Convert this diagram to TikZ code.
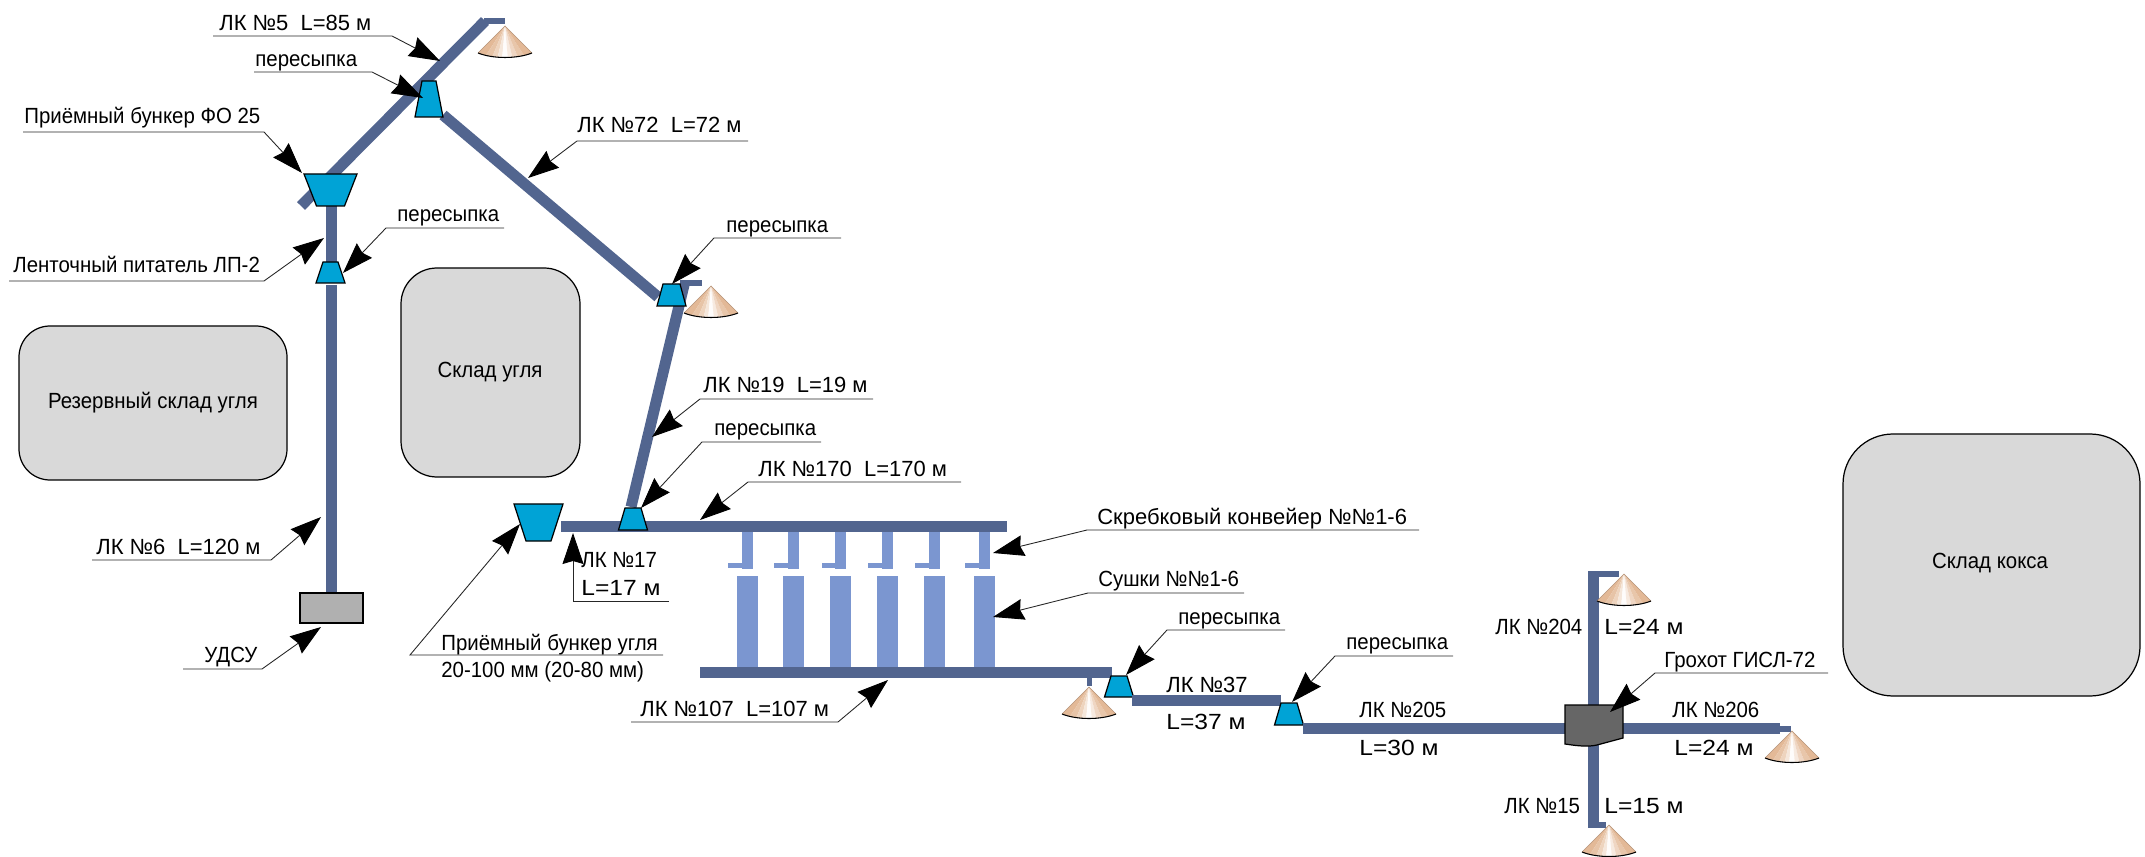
\documentclass[tikz,border=0pt]{standalone}
\usepackage{fontspec}
\usepackage{xcolor}
\setmainfont{Liberation Sans}
\newfontfamily\narrowfont[FakeStretch=0.93]{Liberation Sans}
\newfontfamily\widefont[FakeStretch=1.12]{Liberation Sans}
\usetikzlibrary{arrows.meta}

\definecolor{beltblue}{HTML}{52658F}
\definecolor{dryerblue}{HTML}{7B96D0}
\definecolor{hopperblue}{HTML}{00A3D6}
\definecolor{storegray}{HTML}{D9D9D9}
\definecolor{piletan}{HTML}{E3B997}
\newcommand{\labelsize}{\fontsize{12.5}{15}\selectfont}

\tikzset{
    belt/.style={line width=0.22cm,color=beltblue},
    tail/.style={line width=0.12cm,color=beltblue},
    dryer/.style={fill=dryerblue,draw=none},
    hopper/.style={fill=hopperblue,draw=black,line width=0.7pt},
    store/.style={draw=black,fill=storegray,line width=0.7pt},
    storetext/.style={text=black,font=\narrowfont\labelsize},
    lbl/.style={anchor=base west,inner sep=0pt,text=black,font=\labelsize},
    lbln/.style={lbl,font=\narrowfont\labelsize},
    lblw/.style={lbl,font=\widefont\labelsize},
    leadline/.style={draw=black!85,line width=0.5pt,
        -{Stealth[length=0.62cm,width=0.42cm,inset=0.06cm,color=black]}}
}

% leader: name, start of the underline, knee, tip
\newcommand{\leader}[4]{
    \coordinate (#1s) at (#2);
    \coordinate (#1k) at (#3);
    \coordinate (#1t) at (#4);
    \draw[leadline] (#1s) -- (#1k) -- (#1t);
}
% hopper: centre x, y top, half width top, half width bottom, y bottom
\newcommand{\bunker}[5]{
    \draw[hopper] (#1-#3,#2) -- (#1+#3,#2) -- (#1+#4,#5) -- (#1-#4,#5) -- cycle;
}
% coal pile: x and y of the apex
\newcommand{\pile}[2]{
    \begin{scope}
        \clip (#1,#2) -- (#1+27,#2+27) .. controls (#1+12,#2+33) and (#1-12,#2+33) .. (#1-27,#2+27) -- cycle;
        \foreach \u/\v/\m in {-34/-22/100,-22/-14/85,-14/-8/62,-8/-3/35,-3/3/4,3/8/30,8/14/58,14/22/82,22/34/100}{
            \fill[piletan!\m!white] (#1,#2) -- (#1+\u,#2+34) -- (#1+\v,#2+34) -- cycle;
        }
    \end{scope}
    \draw[piletan!80!black,line width=0.3pt] (#1-27,#2+27) -- (#1,#2) -- (#1+27,#2+27);
    \draw[black,line width=0.6pt] (#1-27,#2+27) .. controls (#1-12,#2+33) and (#1+12,#2+33) .. (#1+27,#2+27);
}

\begin{document}
\begin{tikzpicture}[x=0.02cm,y=-0.02cm,font=\labelsize]

\useasboundingbox (0,0) rectangle (2145,857);

% ---------- stores ----------
\draw[store,rounded corners=0.62cm] (19,326) rectangle (287,480);
\draw[store,rounded corners=0.72cm] (401,268) rectangle (580,477);
\draw[store,rounded corners=1cm] (1843,434) rectangle (2140,696);
\node[storetext] (reserve) at (153,403) {Резервный склад угля};
\node[storetext] (coalstore) at (490,372) {Склад угля};
\node[storetext] (cokestore) at (1990,563) {Склад кокса};

% ---------- upper conveyors ----------
\draw[belt] (301,206) -- (485,21);
\draw[tail] (484,21) -- (505,21);
\draw[belt] (443,115) -- (658,297);
\draw[belt] (331,206) -- (331,262);
\draw[belt] (331,285) -- (331,593);
\draw[belt] (684,285) -- (631,507);
\draw[tail] (680,283) -- (702,283);

\pile{505}{26}
\pile{711}{286}

\bunker{429}{81}{7}{14}{117}
\bunker{330.5}{174}{26.5}{14}{206}
\bunker{330.5}{262}{7.5}{14.5}{283}
\bunker{671.5}{284}{8.5}{14.5}{306}

\draw[draw=black,fill=black!31,line width=0.7pt] (300,593) rectangle (363,623);

% ---------- dryers ----------
\draw[belt] (561,526.5) -- (1007,526.5);
\bunker{538.5}{504}{24.5}{12.5}{541}
\bunker{633}{508}{8}{14.5}{530}

\foreach \a/\b/\c in {737/753/728,783/799/774,830/846/822,877/893/868,924/940/915,974/990/965}{
    \fill[dryerblue] (\b-11,532) rectangle (\b,569);
    \fill[dryerblue] (\c,563) rectangle (\b,568);
    \fill[dryer] (\a,576) rectangle (\a+21,667);
}

\draw[belt] (700,672.5) -- (1112,672.5);
\fill[beltblue] (1086.5,678) rectangle (1091.5,686);
\pile{1089}{687}
\bunker{1119}{676}{8}{14.5}{697}

% ---------- lower conveyors ----------
\draw[belt] (1132,700.5) -- (1281,700.5);
\bunker{1289}{703}{8}{14.5}{725}
\draw[belt] (1303,728.5) -- (1565,728.5);
\draw[belt] (1623,728) -- (1780,728);
\draw[tail] (1780,728.5) -- (1791,728.5);
\draw[belt] (1593,572) -- (1593,705);
\draw[tail] (1588,574) -- (1619,574);
\draw[belt] (1593,744) -- (1593,827);
\draw[tail] (1588,825) -- (1606,825);
\pile{1792}{731}
\pile{1624}{574}
\pile{1609}{825}

\draw[draw=black,fill=black!60,line width=0.7pt] (1565,705) -- (1623,705) -- (1623,738)
    -- (1597,745) .. controls (1588,747) and (1578,746) .. (1565,744) -- cycle;

% ---------- labels ----------
\node[lbl] (lkfive) at (219,31) {ЛК №5\ \ L=85 м};
\leader{lkfive}{213,36}{392,36}{440,61}
\node[lbln] (drop1) at (255,67) {пересыпка};
\leader{drop1}{254,72}{372,72}{423,98}
\node[lbln] (fobunker) at (24,124) {Приёмный бункер ФО 25};
\leader{fobunker}{23,132}{264,132}{302,173}
\node[lbl] (lkseventytwo) at (577,133) {ЛК №72\ \ L=72 м};
\leader{lkseventytwo}{748,141}{577,141}{528,178}
\node[lbln] (drop2) at (397,222) {пересыпка};
\leader{drop2}{504,228}{386,228}{343,273}
\node[lbln] (feeder) at (13,273) {Ленточный питатель ЛП-2};
\leader{feeder}{9,281}{264,281}{324,238}
\node[lbln] (drop3) at (726,233) {пересыпка};
\leader{drop3}{841,238}{714,238}{672,284}
\node[lbl] (lknineteen) at (703,393) {ЛК №19\ \ L=19 м};
\leader{lknineteen}{873,399}{700,399}{652,437}
\node[lbln] (drop4) at (714,436) {пересыпка};
\leader{drop4}{821,442}{702,442}{641,508}
\node[lbl] (lkseventy) at (758,477) {ЛК №170\ \ L=170 м};
\leader{lkseventy}{961,482}{748,482}{700,520}
\node[lbln] (lkseventeen) at (581,567) {ЛК №17};
\node[lblw] (lseventeen) at (581,595) {L=17 м};
\leader{lseventeen}{669,601}{573,601}{573,533}
\node[lbln] (coalbunker) at (441,650) {Приёмный бункер угля};
\node[lbln] (coalsize) at (441,677) {20-100 мм (20-80 мм)};
\leader{coalbunker}{663,655}{410,655}{520,524}
\node[lbl] (lksix) at (96,554) {ЛК №6\ \ L=120 м};
\leader{lksix}{92,560}{271,560}{321,517}
\node[lbln] (udsu) at (204,662) {УДСУ};
\leader{udsu}{183,669}{262,669}{321,627}
\node[lbl] (scraper) at (1097,524) {Скребковый конвейер №№1-6};
\leader{scraper}{1419,530}{1087,530}{993,553}
\node[lbln] (dryers) at (1098,586) {Сушки №№1-6};
\leader{dryers}{1244,593}{1088,593}{993,617}
\node[lbl] (lkhundred) at (640,716) {ЛК №107\ \ L=107 м};
\leader{lkhundred}{631,722}{838,722}{888,680}
\node[lbln] (drop5) at (1178,624) {пересыпка};
\leader{drop5}{1285,630}{1167,630}{1126,675}
\node[lbln] (drop6) at (1346,649) {пересыпка};
\leader{drop6}{1453,656}{1335,656}{1292,702}
\node[lbln] (screen) at (1664,667) {Грохот ГИСЛ-72};
\leader{screen}{1828,673}{1655,673}{1610,712}

\node[lbl] (lkthirtyseven) at (1166,692) {ЛК №37};
\node[lblw] (lthirtyseven) at (1166,729) {L=37 м};
\node[lbln] (lktwofive) at (1359,717) {ЛК №205};
\node[lblw] (ltwofive) at (1359,755) {L=30 м};
\node[lbln] (lktwofour) at (1495,634) {ЛК №204};
\node[lblw] (ltwofour) at (1604,634) {L=24 м};
\node[lbln] (lktwosix) at (1672,717) {ЛК №206};
\node[lblw] (ltwosix) at (1674,755) {L=24 м};
\node[lbln] (lkfifteen) at (1504,813) {ЛК №15};
\node[lblw] (lfifteen) at (1604,813) {L=15 м};

\end{tikzpicture}
\end{document}
